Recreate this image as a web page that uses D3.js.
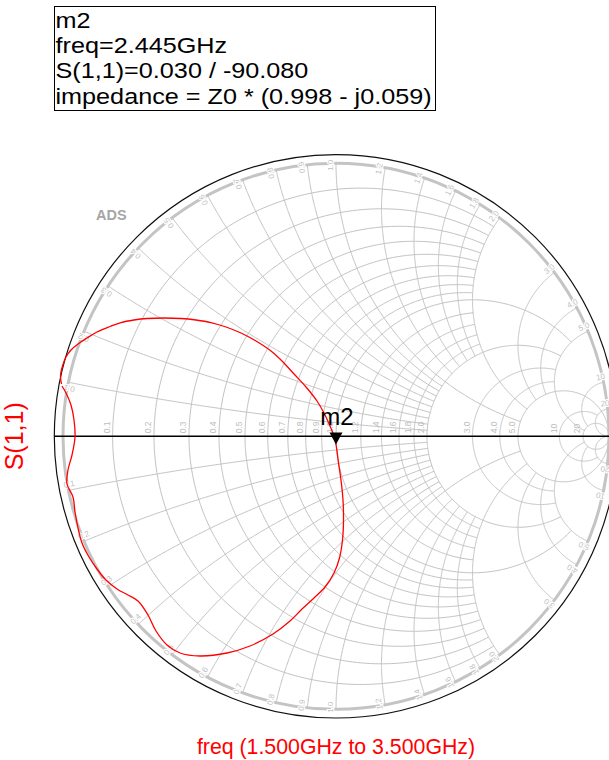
<!DOCTYPE html>
<html>
<head>
<meta charset="utf-8">
<script src="https://cdn.jsdelivr.net/npm/d3@7"></script>
<style>
  html, body { margin: 0; padding: 0; background: #fff; }
  svg { display: block; font-family: "Liberation Sans", Arial, Helvetica, sans-serif; }
</style>
</head>
<body>
<svg id="chart" width="609" height="760"></svg>
<script>
// ---- S(1,1) trace: reflection coefficient, real and imaginary parts, 1.5 GHz -> 3.5 GHz
const s11Re = [-1.0055, -1.0092, -1.0018, -0.989, -0.9707, -0.9451, -0.9121, -0.8755, -0.8278, -0.7875,
  -0.7399, -0.6923, -0.63, -0.5678, -0.5128, -0.4579, -0.4029, -0.348, -0.293, -0.2381,
  -0.1941, -0.1538, -0.1099, -0.0696, -0.044, -0.022, -0.0073, 0.0, 0.0092, 0.0183,
  0.0256, 0.0275, 0.0238, 0.0128, -0.0073, -0.0403, -0.0806, -0.1245, -0.1685, -0.2308,
  -0.315, -0.3993, -0.4982, -0.5714, -0.619, -0.6593, -0.6886, -0.7253, -0.7619, -0.8022,
  -0.8425, -0.8755, -0.9048, -0.9304, -0.9451, -0.956, -0.9634, -0.9853, -0.9817, -0.967,
  -0.956, -0.9597, -0.9707, -0.989, -1.0037];
const s11Im = [0.1916, 0.2209, 0.2575, 0.2905, 0.3161, 0.3381, 0.3601, 0.3821, 0.4022, 0.4168,
  0.426, 0.4315, 0.4333, 0.4315, 0.426, 0.4168, 0.4004, 0.3784, 0.3491, 0.3125,
  0.2722, 0.2282, 0.1806, 0.1293, 0.0853, 0.0377, 0.0011, -0.030, -0.0978, -0.1601,
  -0.2333, -0.3066, -0.3799, -0.4458, -0.5007, -0.552, -0.5923, -0.6328, -0.6766, -0.7242,
  -0.7681, -0.7938, -0.8048, -0.7938, -0.7645, -0.7132, -0.6546, -0.6033, -0.5813, -0.5593,
  -0.5264, -0.4861, -0.4421, -0.3908, -0.3358, -0.2773, -0.2223, -0.1747, -0.1234, -0.0685,
  -0.0026, 0.0597, 0.1147, 0.1587, 0.1842];

// ---- marker m2
const markerName = "m2";
const markerFreq = "2.445GHz";
const markerMag = 0.030;
const markerAngleDeg = -90.080;
const markerZr = 0.998;
const markerZx = -0.059;

// ---- Smith grid: normalized resistance circles and reactance arcs
const gridValues = [0.1, 0.2, 0.3, 0.4, 0.5, 0.6, 0.7, 0.8, 0.9, 1.0, 1.2, 1.4, 1.6, 1.8, 2.0, 3.0, 4.0, 5.0, 10, 20];
const gridLabels = ["0.1", "0.2", "0.3", "0.4", "0.5", "0.6", "0.7", "0.8", "0.9", "1.0", "1.2", "1.4", "1.6", "1.8", "2.0", "3.0", "4.0", "5.0", "10", "20"];
// reactance up to which each resistance circle is drawn
const rCircleXLimit = [2, 2, 2, 2, 2, 2, 2, 2, 2, 5, 2, 2, 2, 2, 5, 5, 5, Infinity, 20, Infinity];
// resistance up to which each reactance arc is drawn
const xArcRLimit = [2, 2, 2, 2, 2, 2, 2, 2, 2, 5, 2, 2, 2, 2, 5, 5, 5, 20, 20, Infinity];

const traceLabel = "S(1,1)";
const sweepLabel = "freq (1.500GHz to 3.500GHz)";

// ---- layout
const cx = 336, cy = 436.3, R = 273, Rout = 281.7;
const svg = d3.select("#chart");

const xs = d3.scaleLinear().domain([-1, 1]).range([cx - R, cx + R]);
const ys = d3.scaleLinear().domain([-1, 1]).range([cy + R, cy - R]);

function gamma(r, x) {
  const d = (r + 1) * (r + 1) + x * x;
  return [(r * r + x * x - 1) / d, 2 * x / d];
}
const line = d3.line().x(d => xs(d[0])).y(d => ys(d[1]));

// resistance circle r, reactance in [-L, L]
function rCirclePts(r, L) {
  const n = 360;
  const uMax = isFinite(L) ? Math.atan(L / (r + 1)) : Math.PI / 2;
  const pts = [];
  for (let i = 0; i <= n; i++) {
    const u = -uMax + 2 * uMax * i / n;
    const x = (Math.abs(u) >= Math.PI / 2 - 1e-9) ? Math.sign(u) * 1e12 : (r + 1) * Math.tan(u);
    pts.push(gamma(r, x));
  }
  return pts;
}
// reactance arc x, resistance in [0, L]
function xArcPts(x, L) {
  const n = 240;
  const ax = Math.abs(x);
  const s0 = Math.atan(1 / ax);
  const s1 = isFinite(L) ? Math.atan((L + 1) / ax) : Math.PI / 2;
  const pts = [];
  for (let i = 0; i <= n; i++) {
    const s = s0 + (s1 - s0) * i / n;
    const r = (s >= Math.PI / 2 - 1e-9) ? 1e12 : ax * Math.tan(s) - 1;
    pts.push(gamma(Math.max(r, 0), x));
  }
  return pts;
}

const gridG = svg.append("g").attr("fill", "none").attr("stroke", "#c2c2c2").attr("stroke-width", 1);
gridValues.forEach((v, i) => {
  gridG.append("path").attr("d", line(rCirclePts(v, rCircleXLimit[i])));
  gridG.append("path").attr("d", line(xArcPts(v, xArcRLimit[i])));
  gridG.append("path").attr("d", line(xArcPts(-v, xArcRLimit[i])));
});

// unit circle ring
svg.append("circle").attr("cx", xs(0)).attr("cy", ys(0)).attr("r", xs(1) - xs(0))
  .attr("fill", "none").attr("stroke", "#c4c4c4").attr("stroke-width", 3);

// resistance labels along the real axis
const labelG = svg.append("g").attr("fill", "#bdbdbd").attr("font-size", 8.5);
gridValues.forEach((v, i) => {
  const px = xs((v - 1) / (v + 1)) - 2.7;
  const py = ys(0) - 3;
  labelG.append("text").attr("transform", `translate(${px},${py}) rotate(-90)`)
    .attr("text-anchor", "start").text(gridLabels[i]);
});

// reactance labels around the rim, set just beside the end of each arc
const rimG = svg.append("g").attr("fill", "#bfbfbf").attr("font-size", 8)
  .attr("stroke", "#fff").attr("stroke-width", 2.2).attr("paint-order", "stroke");
gridValues.forEach((v, i) => {
  [1, -1].forEach(sg => {
    const g = gamma(0, sg * v);
    const a = Math.atan2(g[1], g[0]);
    const th = a * 180 / Math.PI;
    const rad = R - 2;
    // radial point, then a small step along the rim away from the real axis
    let px = cx + rad * Math.cos(a), py = cy - rad * Math.sin(a);
    const step = 6;
    px += sg * (-Math.sin(a)) * step;
    py += sg * (-Math.cos(a)) * step;
    const rot = sg > 0 ? -th : 180 - th;
    rimG.append("text").attr("transform", `translate(${px},${py}) rotate(${rot})`)
      .attr("text-anchor", "middle").attr("dy", "0.35em").text(gridLabels[i]);
  });
});

// outer boundary and real axis
svg.append("circle").attr("cx", xs(0)).attr("cy", ys(0)).attr("r", Rout)
  .attr("fill", "none").attr("stroke", "#111").attr("stroke-width", 1.2);
svg.append("line").attr("x1", xs(0) - Rout).attr("x2", xs(1) + 10)
  .attr("y1", ys(0)).attr("y2", ys(0)).attr("stroke", "#000").attr("stroke-width", 1.4);

// S(1,1) trace
const trace = s11Re.map((re, i) => [re, s11Im[i]]);
svg.append("path").attr("d", d3.line().x(d => xs(d[0])).y(d => ys(d[1])).curve(d3.curveCatmullRom)(trace))
  .attr("fill", "none").attr("stroke", "#ff0000").attr("stroke-width", 1.3);

// marker
const mA = markerAngleDeg * Math.PI / 180;
const mx = xs(markerMag * Math.cos(mA)), my = ys(markerMag * Math.sin(mA));
svg.append("path").attr("d", `M${mx},${my} L${mx - 6.5},${my - 12} L${mx + 6.5},${my - 12} Z`).attr("fill", "#000");
svg.append("text").attr("x", mx + 1).attr("y", my - 19.5).attr("text-anchor", "middle")
  .attr("font-size", 24).attr("fill", "#000").text(markerName);

// marker readout box: glyphs drawn a little wide, as in the ADS readout
svg.append("rect").attr("x", 54.5).attr("y", 6.5).attr("width", 381).attr("height", 104)
  .attr("fill", "#fff").attr("stroke", "#000").attr("stroke-width", 1);
const readout = [
  markerName,
  `freq=${markerFreq}`,
  `S(1,1)=${markerMag.toFixed(3)} / ${markerAngleDeg.toFixed(3)}`,
  `impedance = Z0 * (${markerZr.toFixed(3)} ${markerZx < 0 ? "-" : "+"} j${Math.abs(markerZx).toFixed(3)})`
];
const boxT = svg.append("g").attr("font-size", 21.5).attr("fill", "#000");
const widen = 25.2 / 21.5;
readout.forEach((t, i) => {
  const el = boxT.append("text").attr("x", 55.5).attr("y", 28 + i * 25.2).text(t);
  const w = el.node().getComputedTextLength();
  el.attr("textLength", w * widen).attr("lengthAdjust", "spacingAndGlyphs");
});

// watermark
svg.append("text").attr("x", 96).attr("y", 220).attr("font-size", 14.5).attr("font-weight", "bold")
  .attr("fill", "#a6a6a6").text("ADS");

// axis titles
svg.append("text").attr("transform", `translate(23,${cy}) rotate(-90)`).attr("text-anchor", "middle")
  .attr("font-size", 25).attr("fill", "#ff0000").text(traceLabel);
svg.append("text").attr("x", cx).attr("y", 754).attr("text-anchor", "middle")
  .attr("font-size", 21.3).attr("fill", "#ff0000").text(sweepLabel);
</script>
</body>
</html>
